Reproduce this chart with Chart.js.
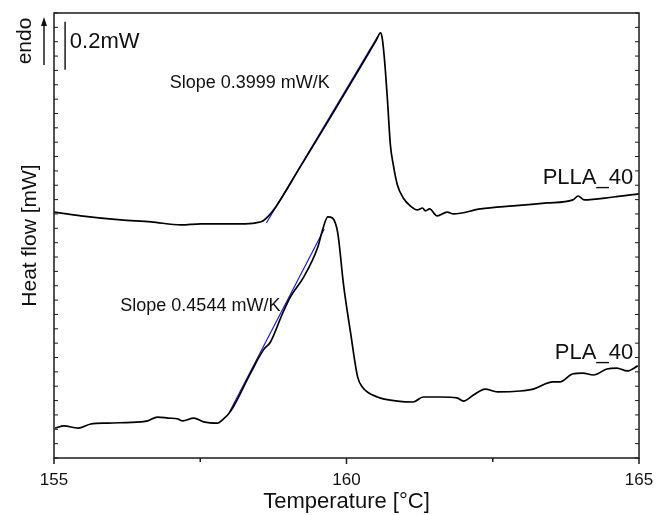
<!DOCTYPE html>
<html>
<head>
  <title>DSC Heat flow</title>
  <script src="https://cdn.jsdelivr.net/npm/chart.js"></script>
  <style>
    body { margin: 0; background: #fff; }
    #wrap { width: 656px; height: 515px; }
  </style>
</head>
<body>
<div id="wrap"><canvas id="dsc"></canvas></div>

<script>
  // PLLA_40 (upper trace)
  const pllaT = [155.00, 155.46, 156.14, 156.66, 157.17, 157.51, 158.19, 158.45, 158.57, 158.67, 158.79,
    159.21, 159.73, 160.24, 160.51, 160.58, 160.61, 160.65, 160.70, 160.75, 160.80, 160.87, 160.97,
    161.09, 161.21, 161.30, 161.35, 161.42, 161.55, 161.72, 161.83, 162.29, 162.85, 163.43, 163.87,
    163.96, 164.06, 164.56, 165.00];
  const pllaHF = [1.028, 1.012, 0.995, 0.987, 0.974, 0.979, 0.979, 0.983, 0.991, 1.012, 1.049,
    1.217, 1.426, 1.635, 1.747, 1.777, 1.756, 1.664, 1.497, 1.309, 1.225, 1.141, 1.087,
    1.054, 1.037, 1.045, 1.033, 1.041, 1.012, 1.028, 1.020, 1.041, 1.054, 1.066, 1.079,
    1.095, 1.079, 1.091, 1.104];

  // PLA_40 (lower trace)
  const plaT = [155.02, 155.17, 155.41, 155.63, 155.92, 156.48, 156.60, 156.77, 156.95, 157.12, 157.20,
    157.39, 157.56, 157.80, 157.88, 158.02, 158.36, 158.58, 158.70, 158.91, 159.04, 159.27, 159.51,
    159.59, 159.68, 159.76, 159.85, 159.95, 160.07, 160.19, 160.27, 160.53, 160.87, 161.14, 161.31,
    161.60, 161.89, 162.00, 162.17, 162.37, 162.58, 162.97, 163.19, 163.53, 163.65, 163.86, 164.04,
    164.22, 164.45, 164.62, 164.80, 164.98];
  const plaHF = [0.125, 0.134, 0.125, 0.142, 0.146, 0.151, 0.155, 0.171, 0.167, 0.163, 0.155,
    0.167, 0.151, 0.146, 0.159, 0.196, 0.355, 0.452, 0.485, 0.606, 0.673, 0.757, 0.882,
    0.953, 1.008, 1.003, 0.941, 0.723, 0.523, 0.339, 0.297, 0.255, 0.238, 0.234, 0.255,
    0.255, 0.251, 0.238, 0.263, 0.288, 0.276, 0.280, 0.288, 0.318, 0.318, 0.351, 0.355,
    0.347, 0.372, 0.376, 0.364, 0.385];

  // fitted slope lines (start, end)
  const pllaSlopeT = [158.63, 160.53];
  const pllaSlopeHF = [0.982, 1.760];
  const plaSlopeT = [158.00, 159.62];
  const plaSlopeHF = [0.192, 0.957];

  // x axis
  const xMin = 155, xMax = 165, xStep = 2.5;
  const xLabels = [155, 160, 165];
  // y axis (no labels, only ticks)
  const yMin = 0, yMax = 1.86, yStep = 0.06;

  // scale bar 0.2 mW
  const barT = 155.19, barTop = 1.823, barSize = 0.2;

  const textLabels = [
    { text: 'Slope 0.3999 mW/K', t: 158.345, v: 1.568, align: 'center', size: 18 },
    { text: 'Slope 0.4544 mW/K', t: 158.87, v: 0.635, align: 'right', size: 18 },
    { text: 'PLLA_40', t: 164.90, v: 1.171, align: 'right', size: 22 },
    { text: 'PLA_40', t: 164.90, v: 0.439, align: 'right', size: 22 },
    { text: '0.2mW', t: 155.27, v: 1.739, align: 'left', size: 22 }
  ];

  const FONT = '"Liberation Sans", Arial, sans-serif';
  const pts = (xs, ys) => xs.map((x, i) => ({ x: x, y: ys[i] }));

  const decor = {
    id: 'decor',
    afterDraw(chart) {
      const { ctx, chartArea: a, scales: { x, y } } = chart;
      ctx.save();
      ctx.strokeStyle = '#1a1a1a';
      ctx.fillStyle = '#111';
      ctx.lineWidth = 1.5;
      const line = (x1, y1, x2, y2) => { ctx.beginPath(); ctx.moveTo(x1, y1); ctx.lineTo(x2, y2); ctx.stroke(); };

      // frame
      ctx.strokeRect(a.left, a.top, a.right - a.left, a.bottom - a.top);

      // x ticks (outward)
      x.ticks.forEach(t => {
        const px = x.getPixelForValue(t.value);
        line(px, a.bottom, px, a.bottom + (xLabels.includes(t.value) ? 6 : 4));
      });
      // y ticks (inward, both sides)
      ctx.lineWidth = 1;
      y.ticks.forEach(t => {
        const py = y.getPixelForValue(t.value);
        line(a.left, py, a.left + 4, py);
        line(a.right - 4, py, a.right, py);
      });

      // scale bar
      ctx.lineWidth = 1.5;
      const bx = x.getPixelForValue(barT);
      line(bx, y.getPixelForValue(barTop), bx, y.getPixelForValue(barTop - barSize));

      // endo arrow
      const ax = a.left - 10;
      line(ax, a.top + 52, ax, a.top + 10);
      ctx.beginPath();
      ctx.moveTo(ax, a.top + 4);
      ctx.lineTo(ax - 3, a.top + 13);
      ctx.lineTo(ax + 3, a.top + 13);
      ctx.closePath();
      ctx.fill();

      ctx.save();
      ctx.translate(a.left - 29, a.top + 28);
      ctx.rotate(-Math.PI / 2);
      ctx.font = '21px ' + FONT;
      ctx.textAlign = 'center';
      ctx.textBaseline = 'middle';
      ctx.fillText('endo', 0, 0);
      ctx.restore();

      // text labels
      ctx.textBaseline = 'middle';
      textLabels.forEach(l => {
        ctx.font = l.size + 'px ' + FONT;
        ctx.textAlign = l.align;
        ctx.fillText(l.text, x.getPixelForValue(l.t), y.getPixelForValue(l.v));
      });
      ctx.restore();
    }
  };

  new Chart(document.getElementById('dsc'), {
    type: 'line',
    data: {
      datasets: [
        { data: pts(pllaT, pllaHF), borderColor: '#000', borderWidth: 1.7 },
        { data: pts(plaT, plaHF), borderColor: '#000', borderWidth: 1.7 },
        { data: pts(pllaSlopeT, pllaSlopeHF), borderColor: '#1c1cd8', borderWidth: 1.2 },
        { data: pts(plaSlopeT, plaSlopeHF), borderColor: '#1c1cd8', borderWidth: 1.2 }
      ]
    },
    options: {
      responsive: true,
      maintainAspectRatio: false,
      animation: false,
      layout: { padding: { left: 0, right: 17, top: 13, bottom: 0 } },
      elements: {
        point: { radius: 0 },
        line: { cubicInterpolationMode: 'monotone' }
      },
      plugins: { legend: { display: false }, tooltip: { enabled: false } },
      scales: {
        x: {
          type: 'linear',
          min: xMin, max: xMax,
          afterFit: s => { s.height = 57; s.paddingLeft = 0; s.paddingRight = 0; },
          grid: { display: false, drawTicks: false },
          border: { display: false },
          ticks: {
            stepSize: xStep,
            padding: 12,
            color: '#111',
            font: { family: FONT, size: 17 },
            maxRotation: 0,
            callback: v => xLabels.includes(v) ? String(v) : ''
          },
          title: {
            display: true,
            text: 'Temperature [°C]',
            color: '#111',
            font: { family: FONT, size: 22 },
            padding: { top: 0, bottom: 0 }
          }
        },
        y: {
          min: yMin, max: yMax,
          afterFit: s => { s.width = 54; },
          grid: { display: false, drawTicks: false },
          border: { display: false },
          ticks: { stepSize: yStep, display: false },
          title: {
            display: true,
            text: 'Heat flow [mW]',
            color: '#111',
            font: { family: FONT, size: 21 },
            padding: { top: 18, bottom: 0 }
          }
        }
      }
    },
    plugins: [decor]
  });
</script>
</body>
</html>
